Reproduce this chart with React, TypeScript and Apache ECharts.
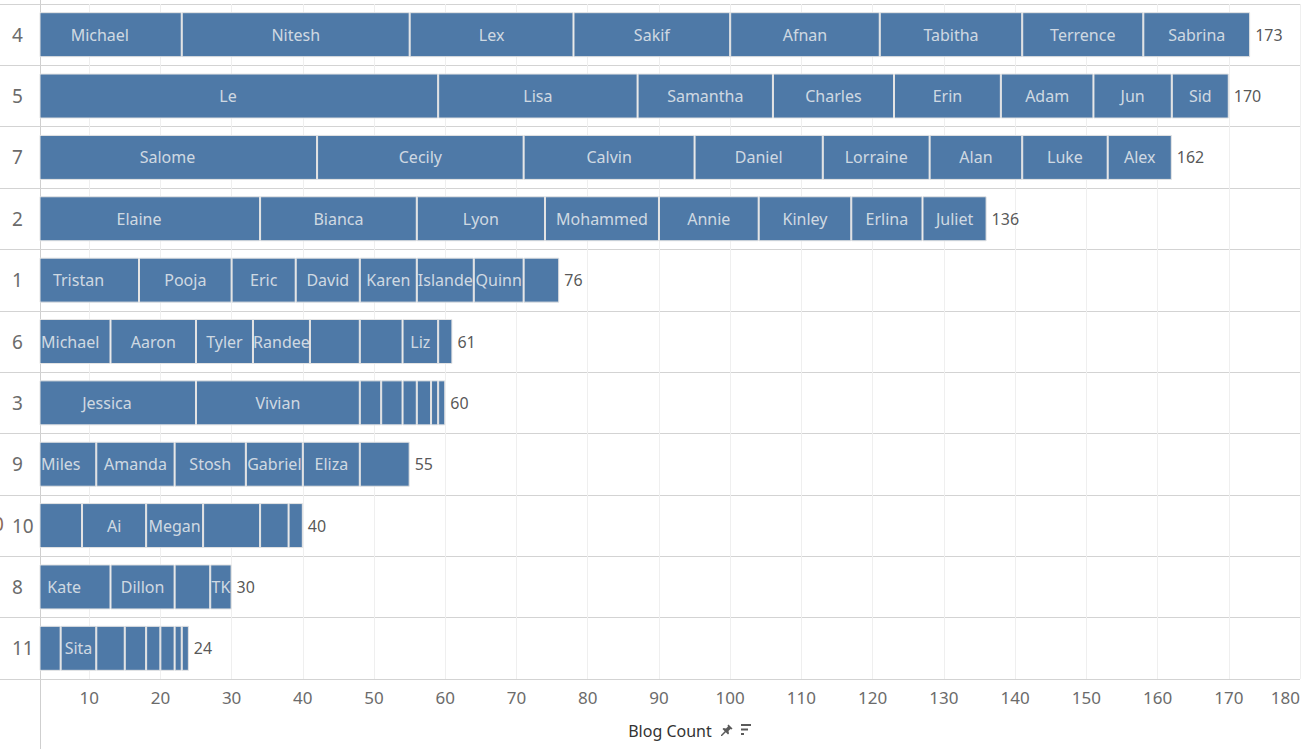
import { useEffect, useRef } from "react";
import * as echarts from "echarts";

const categories = ["4", "5", "7", "2", "1", "6", "3", "9", "10", "8", "11"];

const segmentNames: string[][] = [
  ["Michael", "Nitesh", "Lex", "Sakif", "Afnan", "Tabitha", "Terrence", "Sabrina"],
  ["Le", "Lisa", "Samantha", "Charles", "Erin", "Adam", "Jun", "Sid"],
  ["Salome", "Cecily", "Calvin", "Daniel", "Lorraine", "Alan", "Luke", "Alex"],
  ["Elaine", "Bianca", "Lyon", "Mohammed", "Annie", "Kinley", "Erlina", "Juliet"],
  ["Tristan", "Pooja", "Eric", "David", "Karen", "Islande", "Quinn", ""],
  ["Michael", "Aaron", "Tyler", "Randee", "", "", "Liz", ""],
  ["Jessica", "Vivian", "", "", "", "", "", ""],
  ["Miles", "Amanda", "Stosh", "Gabriel", "Eliza", ""],
  ["", "Ai", "Megan", "", "", ""],
  ["Kate", "Dillon", "", "TK"],
  ["", "Sita", "", "", "", "", "", ""],
];

const segmentValues: number[][] = [
  [23, 32, 23, 22, 21, 20, 17, 15],
  [59, 28, 19, 17, 15, 13, 11, 8],
  [42, 29, 24, 18, 15, 13, 12, 9],
  [34, 22, 18, 16, 14, 13, 10, 9],
  [17, 13, 9, 9, 8, 8, 7, 5],
  [13, 12, 8, 8, 7, 6, 5, 2],
  [25, 23, 3, 3, 2, 2, 1, 1],
  [11, 11, 10, 8, 8, 7],
  [9, 9, 8, 8, 4, 2],
  [13, 9, 5, 3],
  [6, 5, 4, 3, 2, 2, 1, 1],
];

const totals = [173, 170, 162, 136, 76, 61, 60, 55, 40, 30, 24];

const tickValues = [10, 20, 30, 40, 50, 60, 70, 80, 90, 100, 110, 120, 130, 140, 150, 160, 170, 180];

const PIN_PATH =
  "M7.5 0.5 L11.5 4.5 L10.5 5.5 L9.5 5 L7.5 7 L8 9.5 L7 10.5 L4.8 8.3 L1 12 L0 12 L0 11 L3.7 7.2 L1.5 5 L2.5 4 L5 4.5 L7 2.5 L6.5 1.5 Z";

const FONT = "Noto Sans";
const BAR_COLOR = "#4e79a7";

export default function App() {
  const ref = useRef<HTMLDivElement>(null);

  useEffect(() => {
    if (!ref.current) return;
    try {
      echarts.graphic.registerShape("pin", echarts.graphic.extendPath(PIN_PATH, {}));
    } catch (e) {
      /* already registered */
    }
    const chart = echarts.init(ref.current, undefined, { renderer: "svg" });

    const maxSlots = Math.max(...segmentValues.map((r) => r.length));
    const barSeries: any[] = [];
    for (let s = 0; s < maxSlots; s++) {
      barSeries.push({
        type: "bar",
        stack: "total",
        barWidth: 45,
        clip: true,
        silent: true,
        itemStyle: { color: BAR_COLOR, borderColor: "#e4e4e4", borderWidth: 1 },
        data: categories.map((_, r) => (segmentValues[r][s] != null ? segmentValues[r][s] : "-")),
      });
    }

    // label points at the centre of every full segment
    const labelData: any[] = [];
    categories.forEach((cat, r) => {
      let acc = 0;
      segmentValues[r].forEach((v, s) => {
        const nm = segmentNames[r][s];
        if (nm) labelData.push([acc + v / 2, cat, nm]);
        acc += v;
      });
    });

    const option: any = {
      animation: false,
      textStyle: { fontFamily: FONT },
      grid: { left: 40, right: 4, top: 4, bottom: 70, containLabel: false },
      xAxis: {
        type: "value",
        min: 3.1,
        max: 180,
        axisLine: { show: false },
        axisTick: { show: false, customValues: tickValues },
        axisLabel: {
          customValues: tickValues,
          color: "#6b6b6b",
          fontSize: 17,
          fontFamily: FONT,
          margin: 10,
          alignMaxLabel: "right",
        },
        splitLine: { show: true, lineStyle: { color: "#efefef", width: 1 } },
        name: "Blog Count",
        nameLocation: "middle",
        nameGap: 44,
        nameTextStyle: { color: "#333333", fontSize: 16, fontFamily: FONT },
      },
      yAxis: {
        type: "category",
        data: categories,
        inverse: true,
        axisLine: { show: false },
        axisTick: { show: true, length: 40, interval: 0, lineStyle: { color: "#d3d3d3" } },
        axisLabel: {
          align: "left",
          margin: 28,
          color: "#6b6b6b",
          fontSize: 19,
          fontFamily: FONT,
          interval: 0,
        },
        splitLine: { show: true, interval: 0, lineStyle: { color: "#d3d3d3" } },
      },
      series: [
        ...barSeries,
        {
          type: "scatter",
          silent: true,
          symbolSize: 0,
          data: labelData,
          encode: { x: 0, y: 1 },
          z: 5,
          label: {
            show: true,
            position: "inside",
            color: "#f3f3f3",
            fontSize: 16,
            fontFamily: FONT,
            formatter: (p: any) => p.data[2],
          },
          labelLayout: (p: any) => {
            const r = p.labelRect;
            return r && r.x < 41 ? { dx: 41 - r.x } : {};
          },
        },
        {
          type: "scatter",
          silent: true,
          symbolSize: 0,
          data: categories.map((c, i) => [totals[i], c]),
          z: 5,
          label: {
            show: true,
            position: "right",
            distance: 5,
            color: "#2b2b2b",
            fontSize: 16,
            fontFamily: FONT,
            formatter: (p: any) => String(p.data[0]),
          },
        },
      ],
      graphic: [
        { type: "line", shape: { x1: 40.5, y1: 0, x2: 40.5, y2: 749 }, style: { stroke: "#cfcfcf", lineWidth: 1 }, silent: true },
        { type: "text", x: 4, y: 524, style: { text: "10", align: "right", verticalAlign: "middle", fill: "#8a6a5a", fontSize: 19, fontFamily: FONT } },
        { type: "text", x: 3, y: 648, style: { text: "11", align: "right", verticalAlign: "middle", fill: "#777777", fontSize: 19, fontFamily: FONT } },
        { type: "pin", x: 721, y: 724, scaleX: 1, scaleY: 1, style: { fill: "#5a5a5a" } },
        { type: "rect", shape: { x: 741, y: 724, width: 10, height: 2 }, style: { fill: "#5a5a5a" } },
        { type: "rect", shape: { x: 741, y: 728.5, width: 7, height: 2 }, style: { fill: "#5a5a5a" } },
        { type: "rect", shape: { x: 741, y: 733, width: 3, height: 2 }, style: { fill: "#5a5a5a" } },
      ],
    };

    chart.setOption(option);
    return () => chart.dispose();
  }, []);

  return <div ref={ref} style={{ position: "absolute", left: 0, top: 0, width: 1304, height: 749 }} />;
}
